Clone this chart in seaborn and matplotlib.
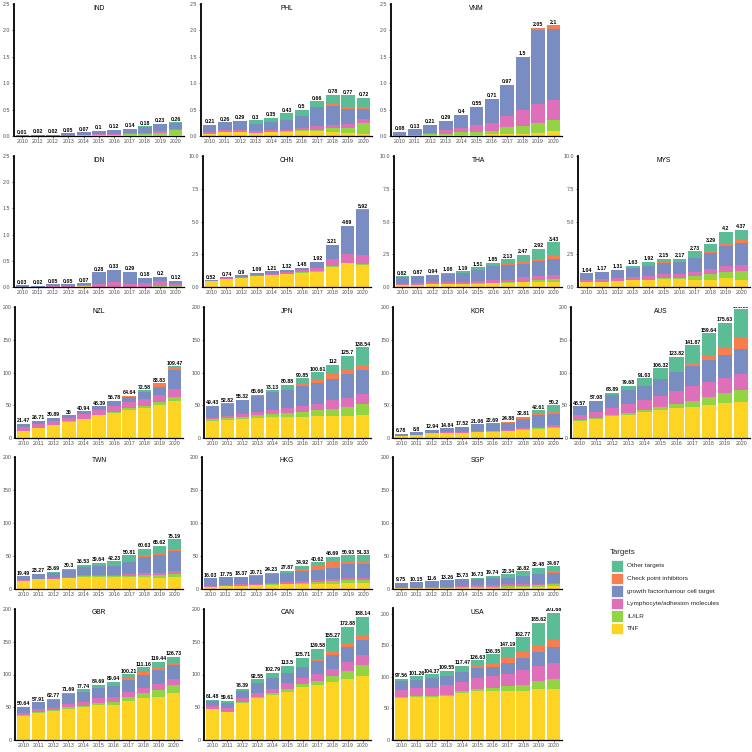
import pandas as pd
import seaborn as sns
import matplotlib.pyplot as plt
from matplotlib.patches import Rectangle

sns.set_theme(style='ticks')
plt.rcParams['font.family'] = ['Liberation Sans', 'DejaVu Sans']

years = list(range(2010, 2021))

# Легенда сверху вниз (как в ggplot: первый уровень сверху стопки)
targets = ['Other targets', 'Check point inhibitors', 'growth factor/tumour cell target',
           'Lymphocyte/adhesion molecules', 'IL/ILR', 'TNF']
colors = ['#5BBD96', '#F97E4F', '#7A8DC3', '#DE70BA', '#92D444', '#FDD423']
keys = ['oth', 'cp', 'gf', 'lym', 'il', 'tnf']

# Данные по странам (значения для 2010..2020)
IND = dict(tnf=[0, 0, 0, 0.005, 0.01, 0.01, 0.015, 0.02, 0.02, 0.02, 0.02],
           il=[0, 0, 0, 0, 0, 0.005, 0.005, 0.01, 0.015, 0.04, 0.09],
           lym=[0, 0, 0.005, 0.01, 0.01, 0.015, 0.02, 0.025, 0.03, 0.04, 0.03],
           gf=[0.01, 0.02, 0.015, 0.035, 0.05, 0.07, 0.08, 0.085, 0.11, 0.12, 0.1],
           cp=[0, 0, 0, 0, 0, 0, 0, 0, 0, 0, 0.005],
           oth=[0, 0, 0, 0, 0, 0, 0, 0, 0.005, 0.01, 0.015])
PHL = dict(tnf=[0.03, 0.07, 0.07, 0.05, 0.07, 0.08, 0.10, 0.09, 0.07, 0.05, 0.03],
           il=[0.01, 0.01, 0.01, 0.01, 0.01, 0.01, 0.01, 0.03, 0.075, 0.095, 0.21],
           lym=[0.03, 0.03, 0.03, 0.03, 0.03, 0.03, 0.05, 0.07, 0.055, 0.085, 0.08],
           gf=[0.14, 0.15, 0.17, 0.14, 0.16, 0.18, 0.21, 0.35, 0.37, 0.29, 0.19],
           cp=[0, 0, 0, 0, 0, 0.01, 0.01, 0.01, 0.03, 0.03, 0.03],
           oth=[0, 0, 0.01, 0.07, 0.08, 0.12, 0.12, 0.11, 0.18, 0.22, 0.18])
VNM = dict(tnf=[0, 0, 0.01, 0.01, 0.02, 0.02, 0.03, 0.04, 0.04, 0.05, 0.1],
           il=[0, 0.01, 0.02, 0.03, 0.05, 0.06, 0.07, 0.13, 0.15, 0.2, 0.21],
           lym=[0.01, 0.01, 0.03, 0.08, 0.09, 0.12, 0.14, 0.21, 0.31, 0.35, 0.38],
           gf=[0.07, 0.11, 0.15, 0.17, 0.24, 0.35, 0.47, 0.59, 0.99, 1.41, 1.33],
           cp=[0, 0, 0, 0, 0, 0, 0, 0, 0.01, 0.03, 0.08],
           oth=[0, 0, 0, 0, 0, 0, 0, 0, 0, 0.01, 0])
IDN = dict(tnf=[0, 0, 0, 0, 0.01, 0, 0, 0, 0, 0, 0],
           il=[0, 0, 0, 0, 0, 0, 0, 0, 0, 0.01, 0.01],
           lym=[0, 0, 0.01, 0.01, 0.02, 0.06, 0.09, 0.06, 0.07, 0.11, 0.05],
           gf=[0.03, 0.02, 0.04, 0.04, 0.04, 0.22, 0.24, 0.23, 0.11, 0.08, 0.06],
           cp=[0, 0, 0, 0, 0, 0, 0, 0, 0, 0, 0],
           oth=[0, 0, 0, 0, 0, 0, 0, 0, 0, 0, 0])
CHN = dict(tnf=[0.42, 0.62, 0.72, 0.86, 0.93, 1.02, 1.10, 1.18, 1.55, 1.80, 1.65],
           il=[0, 0, 0, 0, 0, 0.01, 0.01, 0.02, 0.03, 0.07, 0.10],
           lym=[0.04, 0.04, 0.06, 0.08, 0.10, 0.12, 0.15, 0.25, 0.55, 0.67, 0.68],
           gf=[0.06, 0.08, 0.12, 0.15, 0.18, 0.17, 0.22, 0.47, 1.06, 2.12, 3.43],
           cp=[0, 0, 0, 0, 0, 0, 0, 0, 0.02, 0.02, 0.03],
           oth=[0, 0, 0, 0, 0, 0, 0, 0, 0, 0.01, 0.03])
THA = dict(tnf=[0.16, 0.18, 0.20, 0.20, 0.22, 0.25, 0.28, 0.33, 0.35, 0.38, 0.40],
           il=[0, 0, 0, 0.01, 0.01, 0.02, 0.02, 0.03, 0.05, 0.15, 0.18],
           lym=[0.10, 0.13, 0.15, 0.17, 0.17, 0.20, 0.20, 0.20, 0.38, 0.33, 0.36],
           gf=[0.54, 0.53, 0.54, 0.62, 0.69, 0.84, 1.10, 1.13, 1.00, 1.14, 1.23],
           cp=[0, 0, 0, 0, 0, 0, 0.02, 0.06, 0.10, 0.13, 0.22],
           oth=[0.02, 0.03, 0.05, 0.08, 0.10, 0.20, 0.23, 0.38, 0.59, 0.79, 1.04])
MYS = dict(tnf=[0.37, 0.38, 0.47, 0.50, 0.50, 0.62, 0.62, 0.55, 0.55, 0.66, 0.56],
           il=[0.01, 0.01, 0.02, 0.03, 0.05, 0.05, 0.05, 0.27, 0.45, 0.51, 0.68],
           lym=[0.14, 0.20, 0.20, 0.25, 0.30, 0.30, 0.30, 0.33, 0.35, 0.45, 0.46],
           gf=[0.52, 0.58, 0.60, 0.67, 0.75, 0.88, 0.93, 1.05, 1.28, 1.48, 1.65],
           cp=[0, 0, 0, 0, 0.02, 0.03, 0.05, 0.10, 0.15, 0.17, 0.20],
           oth=[0, 0, 0.02, 0.18, 0.30, 0.27, 0.22, 0.43, 0.51, 0.93, 0.82])
NZL = dict(tnf=[10.5, 15.5, 19.5, 25, 29, 34.5, 38.5, 43, 46, 50, 56],
           il=[0, 0, 0.2, 0.3, 0.5, 1, 1.5, 2.5, 3.5, 5, 6.6],
           lym=[7, 6.5, 7, 5.5, 7, 7.5, 8.5, 9, 10.5, 11, 12.2],
           gf=[3.97, 4.71, 4.1, 4.1, 4.3, 5.2, 7.5, 7.5, 10, 12, 29.5],
           cp=[0, 0, 0, 0, 0, 0, 0.5, 2.2, 2, 4, 4.1],
           oth=[0, 0, 0.09, 0.1, 0.14, 0.19, 0.28, 0.44, 0.58, 1.83, 1.07])
JPN = dict(tnf=[26, 27, 29, 30, 31.5, 32, 32.5, 33.5, 34, 34, 35.5],
           il=[2.5, 3, 3, 4.5, 4.5, 5.5, 7, 9, 10, 13.5, 16],
           lym=[2.5, 3, 4, 4.5, 6.5, 8, 9, 9.5, 13.5, 14, 15.5],
           gf=[18, 19.5, 21.5, 25, 27.5, 27.5, 31.5, 32.5, 33, 36, 36.5],
           cp=[0, 0, 0, 0, 0, 0.3, 2, 4, 7.5, 6.5, 7.5],
           oth=[0.43, 0.32, 0.82, 1.66, 3.13, 7.58, 8.85, 12.11, 14, 21.7, 27.54])
KOR = dict(tnf=[2.5, 4.5, 7, 7.5, 7.5, 9, 9.5, 10.5, 12.5, 14, 15.5],
           il=[0, 0, 0.2, 0.2, 0.3, 0.3, 0.5, 0.5, 1, 1.5, 2],
           lym=[0.5, 0.5, 0.6, 0.7, 0.7, 0.8, 1, 1, 1.5, 1.5, 2.5],
           gf=[3.78, 3.8, 5.04, 6.3, 8.8, 10.6, 11.2, 11.5, 14, 17.5, 16],
           cp=[0, 0, 0, 0, 0, 0, 0, 0.5, 1.5, 2, 4],
           oth=[0, 0, 0.1, 0.14, 0.22, 0.36, 0.49, 0.88, 2.31, 6.11, 10.2])
AUS = dict(tnf=[26.5, 29.5, 33, 35, 39, 43, 45.5, 47.5, 50.5, 53, 55.5],
           il=[0.5, 1.5, 2, 2.5, 3.5, 4, 6.5, 9, 12, 15, 17.3],
           lym=[8, 9, 11, 14, 15, 17.5, 19, 22.5, 23, 23, 25.4],
           gf=[13.57, 17, 19, 21.5, 22.5, 25, 30, 31.5, 33.5, 35, 37.2],
           cp=[0, 0, 0, 0, 0, 0.5, 1.5, 4.5, 7.5, 11, 17.3],
           oth=[0, 0.08, 3.89, 6.68, 11.03, 16.32, 21.32, 26.87, 33.14, 38.63, 43.88])
TWN = dict(tnf=[12.5, 14.5, 15, 16, 18.5, 18, 18, 17.5, 17.5, 16.5, 17.5],
           il=[0, 0, 0, 0.5, 0.5, 1, 1, 2, 3, 4.5, 5.5],
           lym=[1.5, 1, 1.5, 1, 2, 2.5, 2.5, 3, 3.5, 3, 4],
           gf=[5.49, 7.77, 8.5, 11, 12, 13.5, 14, 19, 25, 28, 30],
           cp=[0, 0, 0, 0, 0, 0, 0, 0.5, 2, 2, 3],
           oth=[0, 0, 0.69, 1.8, 3.53, 4.64, 6.73, 8.81, 9.63, 11.62, 15.19])
HKG = dict(tnf=[2.5, 5, 5, 6, 6.5, 7, 8, 8, 8, 8.5, 8.5],
           il=[0, 0, 0, 0.5, 0.5, 1, 1.5, 3, 4, 4.5, 5],
           lym=[2, 1, 2, 1.5, 2, 2, 2.5, 3, 3, 3.5, 3],
           gf=[11.53, 11.75, 11.37, 12, 13.5, 14.5, 15, 15.5, 17.5, 21.5, 22],
           cp=[0, 0, 0, 0, 0, 0.5, 4, 7, 10, 4.5, 4.5],
           oth=[0, 0, 0, 0.71, 1.73, 2.87, 3.92, 4.12, 6.19, 8.43, 8.33])
SGP = dict(tnf=[1, 1, 1, 1, 2, 2, 2, 2, 2.5, 3, 4],
           il=[0, 0, 0, 0.5, 0.5, 1, 1.5, 2, 2, 2.5, 3],
           lym=[1, 1, 2, 1.5, 2.5, 3, 2.5, 3, 3, 2.5, 2],
           gf=[7.75, 8.15, 8.6, 10, 10, 9.5, 10.5, 10, 12, 14, 15],
           cp=[0, 0, 0, 0, 0, 0, 0.5, 1, 1.5, 3, 4],
           oth=[0, 0, 0, 0.26, 0.73, 1.23, 2.74, 4.34, 5.82, 7.48, 6.67])
GBR = dict(tnf=[37, 41.5, 44, 48, 50, 54, 54, 60, 64, 66, 71.5],
           il=[0.5, 1, 2, 2, 2, 3, 4, 6, 8, 10, 12.5],
           lym=[3.5, 4.5, 3, 5, 6, 7, 8, 7, 8, 9, 9],
           gf=[9.64, 10.5, 12.5, 15, 16, 16, 16, 18, 20, 22, 21],
           cp=[0, 0, 0, 0, 1, 0.5, 2, 3, 4, 4, 4],
           oth=[0, 0.41, 1.27, 1.69, 2.74, 4.19, 5.04, 6.21, 7.16, 8.44, 8.73])
CAN = dict(tnf=[47, 42.5, 56, 64, 68.5, 74, 80.5, 84, 88, 93, 97.5],
           il=[0.5, 0.5, 2, 2, 2.5, 3.5, 4.5, 6.5, 10, 12.5, 17.5],
           lym=[5, 5.5, 5.5, 6.5, 7.5, 9, 10, 11, 11, 13.5, 14.5],
           gf=[7, 8.5, 11, 14, 15.5, 16, 16, 19, 21.5, 23, 22.5],
           cp=[0, 0, 0, 0, 0.5, 0.5, 1, 3, 5.5, 6.5, 8],
           oth=[1.98, 2.61, 3.89, 6.05, 8.29, 10.5, 13.71, 16.08, 19.27, 24.38, 28.14])
USA = dict(tnf=[67, 69, 69, 70, 75, 78, 78, 78, 78, 81, 81],
           il=[1, 1, 1, 2, 2.5, 3, 4.5, 7, 10, 12.5, 16.6],
           lym=[11, 12, 13, 15, 14.5, 17.5, 18.5, 20, 22.5, 24.5, 25],
           gf=[14, 13, 15, 14.5, 16.5, 15.5, 15.5, 18, 20, 22, 24.5],
           cp=[0.5, 1.5, 0.5, 0.5, 0.5, 3, 6, 7, 9.5, 11.5, 12],
           oth=[4.06, 4.76, 5.87, 7.55, 8.47, 9.63, 13.85, 17.19, 22.77, 34.12, 42.58])

small = ([0, 0.5, 1, 1.5, 2, 2.5], '{:.1f}', 2.5)
mid = ([0, 2.5, 5, 7.5, 10], '{:.1f}', 10)
big = ([0, 50, 100, 150, 200], '{:.0f}', 200)

# имя, данные, рамка панели в пикселях (x0, y0, x1, y1), шкала y
panels = [
    ('IND', IND, (14, 4, 184, 136), small),
    ('PHL', PHL, (201, 4, 372, 136), small),
    ('VNM', VNM, (391, 4, 562, 136), small),
    ('IDN', IDN, (14, 156, 184, 287), small),
    ('CHN', CHN, (203, 156, 371, 287), mid),
    ('THA', THA, (394, 156, 562, 287), mid),
    ('MYS', MYS, (578, 156, 750, 287), mid),
    ('NZL', NZL, (15, 307, 183, 438), big),
    ('JPN', JPN, (204, 307, 371, 438), big),
    ('KOR', KOR, (393, 307, 562, 438), big),
    ('AUS', AUS, (571, 307, 750, 438), big),
    ('TWN', TWN, (15, 457, 183, 589), big),
    ('HKG', HKG, (202, 457, 372, 589), big),
    ('SGP', SGP, (393, 457, 562, 589), big),
    ('GBR', GBR, (15, 609, 182, 740), big),
    ('CAN', CAN, (204, 609, 371, 740), big),
    ('USA', USA, (393, 608, 562, 740), ([0, 50, 100, 150, 200], '{:.0f}', 209.5)),
]

W = H = 752
fig = plt.figure(figsize=(W / 100, H / 100), dpi=100)
pal = dict(zip(targets, colors))

for name, d, (x0, y0, x1, y1), (yt, fmt, ymax) in panels:
    ax = fig.add_axes([x0 / W, 1 - y1 / H, (x1 - x0) / W, (y1 - y0) / H])
    rows = []
    for k, t in zip(keys, targets):
        for yr, v in zip(years, d[k]):
            rows.append((yr, t, v))
    df = pd.DataFrame(rows, columns=['year', 'target', 'value'])
    sns.histplot(data=df, x='year', weights='value', hue='target', hue_order=targets,
                 palette=pal, multiple='stack', discrete=True, shrink=0.9,
                 alpha=1, linewidth=0, legend=False, ax=ax)
    tot = df.groupby('year')['value'].sum()
    for yr, s in tot.items():
        ax.annotate(f'{round(s, 2):g}', (yr, s), xytext=(0, 0.4), textcoords='offset points',
                    ha='center', va='bottom', fontsize=3.8, fontweight='bold',
                    color='black', clip_on=True)
    ax.set_xlim(2009.45, 2020.55)
    ax.set_ylim(0, ymax)
    ax.set_xticks(years)
    ax.set_xticklabels([str(y) for y in years])
    ax.set_yticks(yt)
    ax.set_yticklabels([fmt.format(v) for v in yt])
    ax.set_xlabel('')
    ax.set_ylabel('')
    ax.text(0.5, 1 - 4 / (y1 - y0), name, transform=ax.transAxes, ha='center',
            va='center', fontsize=4.8, color='black')
    sns.despine(ax=ax)
    ax.spines['left'].set_linewidth(1.3)
    ax.spines['bottom'].set_linewidth(0.9)
    ax.spines['left'].set_color('black')
    ax.spines['bottom'].set_color('black')
    ax.tick_params(axis='both', length=1.5, width=0.5, pad=1, labelsize=3.8,
                   colors='#333333', labelcolor='#4D4D4D')
    ax.set_facecolor('white')

# Легенда (ручная, в пикселях)
fig.text(610 / W, 1 - 552 / H, 'Targets', ha='left', va='center', fontsize=5.7)
for i, (t, c) in enumerate(zip(targets, colors)):
    yc = 566 + i * 12.5
    fig.add_artist(Rectangle((611 / W, 1 - (yc + 5.9) / H), 11.7 / W, 11.8 / H,
                             transform=fig.transFigure, facecolor=c,
                             edgecolor='white', linewidth=0.5))
    fig.text(627 / W, 1 - yc / H, t, ha='left', va='center', fontsize=4.6)

fig.savefig('out.png', dpi=100)
